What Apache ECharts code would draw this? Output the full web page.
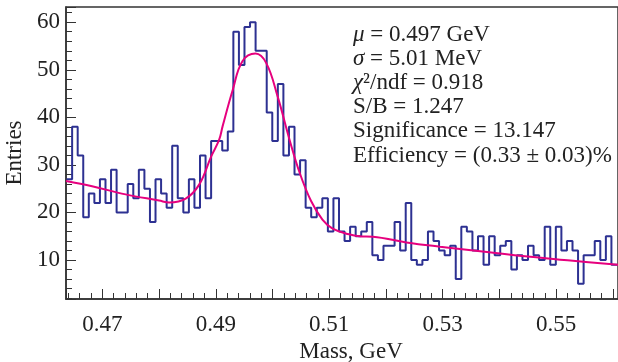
<!DOCTYPE html>
<html lang="en">
<head>
  <meta charset="UTF-8">
  <title>Mass fit</title>
  <style>
    body { margin: 0; padding: 0; background: #fff; }
    #chart { width: 618px; height: 362px; }
  </style>
</head>
<body>
  <div id="chart"></div>
  <script src="https://cdn.jsdelivr.net/npm/echarts@6/dist/echarts.min.js"></script>
  <script>
    // histogram bins (GeV)
    const binStart = 0.4637;
    const binWidth = 0.00098;
    const counts = [
      27, 38, 32, 19, 24, 22, 27, 22, 29, 20,
      20, 26, 23, 29, 25, 18, 27, 24, 21, 34,
      23, 20, 27, 21, 32, 23, 35, 35, 33, 37,
      58, 51, 59, 60, 54, 54, 41, 35, 47, 32,
      38, 28, 31, 21, 19, 21, 23, 16, 23, 16,
      14, 17, 15, 16, 18, 11, 10, 13, 13, 18,
      12, 22, 10, 9, 10, 16, 14, 12, 11, 13,
      6, 17, 16, 12, 15, 9, 15, 11, 13, 14,
      8, 11, 10, 13, 11, 10, 17, 9, 17, 12,
      14, 12, 5, 11, 11, 14, 10, 15, 9
    ];

    // fit curve
    const fitMass = [0.4636, 0.4682, 0.4741, 0.480, 0.4818, 0.4847, 0.4871, 0.4892, 0.4906, 0.4912,
      0.4930, 0.4947, 0.4970, 0.4989, 0.5009, 0.5030, 0.5048, 0.5068, 0.5088, 0.5106,
      0.5135, 0.5153, 0.5177, 0.5236, 0.5295, 0.5366, 0.5436, 0.5525, 0.5609];
    const fitValue = [26.6, 25.5, 23.8, 22.5, 22.1, 22.9, 25.9, 31.8, 35.3, 38.1,
      45.8, 51.8, 53.4, 51.4, 44.4, 35.3, 28.3, 22.4, 18.5, 16.6,
      15.4, 15.0, 14.9, 13.7, 12.8, 11.85, 10.9, 9.9, 9.0];

    const infoLines = [
      '{i|μ} = 0.497 GeV',
      '{i|σ} = 5.01 MeV',
      '{i|χ}²/ndf = 0.918',
      'S/B = 1.247',
      'Significance = 13.147',
      'Efficiency = (0.33 ± 0.03)%'
    ];

    const xMin = 0.4636, xMax = 0.5609;
    const yMin = 1.8, yMax = 63.2;

    const histData = counts.map((c, i) => [+(binStart + i * binWidth).toFixed(5), c]);
    histData.push([+(binStart + counts.length * binWidth).toFixed(5), counts[counts.length - 1]]);
    const fitData = fitMass.map((m, i) => [m, fitValue[i]]);

    const font = 'Liberation Serif';
    const fs = 23;
    const axisColor = '#333';

    const chart = echarts.init(document.getElementById('chart'));
    chart.setOption({
      animation: false,
      grid: {
        left: 66, right: 0, top: 7, bottom: 63,
        containLabel: false, outerBoundsMode: 'none',
        show: true, borderColor: axisColor, borderWidth: 1.5
      },
      xAxis: {
        type: 'value', min: xMin, max: xMax, splitNumber: 10,
        name: 'Mass, GeV', nameLocation: 'middle', nameGap: 34,
        nameTextStyle: { fontFamily: font, fontSize: fs, color: '#222', padding: [0, 0, 0, 18] },
        axisLine: { lineStyle: { color: axisColor, width: 1.5 } },
        axisTick: { inside: true, length: 10, lineStyle: { color: axisColor } },
        minorTick: { show: true, splitNumber: 5, length: 6, lineStyle: { color: axisColor } },
        splitLine: { show: false },
        axisLabel: {
          fontFamily: font, fontSize: fs, color: '#222', margin: 14,
          formatter: v => (Math.round(v * 1000) % 20 === 10 ? v.toFixed(2) : '')
        }
      },
      yAxis: {
        type: 'value', min: yMin, max: yMax, splitNumber: 6,
        name: 'Entries', nameLocation: 'middle', nameGap: 34,
        nameTextStyle: { fontFamily: font, fontSize: fs, color: '#222' },
        axisLine: { show: true, lineStyle: { color: axisColor, width: 1.5 } },
        axisTick: { inside: true, length: 10, lineStyle: { color: axisColor } },
        minorTick: { show: true, splitNumber: 5, length: 6, lineStyle: { color: axisColor } },
        splitLine: { show: false },
        axisLabel: {
          fontFamily: font, fontSize: fs, color: '#222', margin: 6,
          formatter: v => (Math.abs(v % 10) < 1e-6 ? String(v) : '')
        }
      },
      series: [
        {
          type: 'line', step: 'end', data: histData, showSymbol: false,
          lineStyle: { color: '#2d3192', width: 2 }
        },
        {
          type: 'line', smooth: 0.4, data: fitData, showSymbol: false,
          lineStyle: { color: '#e6007e', width: 2 }
        }
      ],
      graphic: infoLines.map((t, i) => ({
        type: 'text', left: 353, top: 23 + i * 24.2,
        style: {
          text: t, fontFamily: font, fontSize: fs, fill: '#222',
          rich: { i: { fontFamily: font, fontSize: fs, fontStyle: 'italic', fill: '#222' } }
        }
      }))
    });
  </script>
</body>
</html>
